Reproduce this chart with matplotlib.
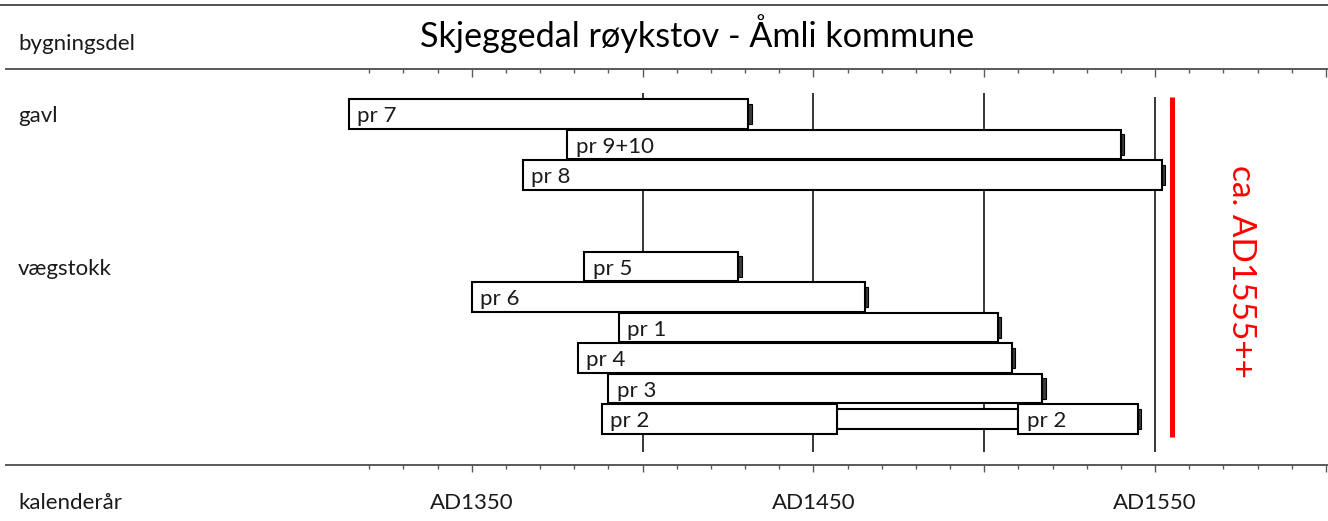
import matplotlib
matplotlib.use("Agg")
import matplotlib.pyplot as plt
from matplotlib.patches import Rectangle
from matplotlib.lines import Line2D
from matplotlib.transforms import blended_transform_factory
from matplotlib.ticker import FixedLocator, FuncFormatter

plt.rcParams['font.family'] = ['Lato', 'DejaVu Sans']

# ---------------- data ----------------
title = "Skjeggedal røykstov - Åmli kommune"
row_header = "bygningsdel"
axis_header = "kalenderår"
groups = ["gavl", "vægstokk"]
group_rows = [0, 5]

samples = ["pr 7", "pr 9+10", "pr 8", "pr 5", "pr 6", "pr 1", "pr 4", "pr 3", "pr 2"]
sample_rows = [0, 1, 2, 5, 6, 7, 8, 9, 10]
seg_starts = [[1314], [1378], [1365], [1383], [1350], [1393], [1381], [1390], [1388, 1510]]
seg_ends = [[1431], [1540], [1552], [1428], [1465], [1504], [1508], [1517], [1457, 1545]]

felling_year = 1555
felling_label = "ca. AD1555++"
grid_years = [1400, 1450, 1500, 1550]
major_years = [1350, 1400, 1450, 1500, 1550, 1600]
minor_years = list(range(1320, 1601, 10))
tick_labels = {1350: "AD1350", 1450: "AD1450", 1550: "AD1550"}

# ---------------- figure ----------------
W, H = 1328, 521
fig = plt.figure(figsize=(W / 100, H / 100), dpi=100)
ax = fig.add_axes([6 / W, (H - 464.5) / H, 1 - 6 / W, (464.5 - 69) / H])
ax.set_xlim(1213.7, 1600.6)
ax.set_ylim(11.49, -1.475)

line_col = "#595959"
text_col = "#1a1a1a"

for s in ["left", "right", "top"]:
    ax.spines[s].set_visible(False)
ax.spines["bottom"].set_color(line_col)
ax.spines["bottom"].set_linewidth(1.4)
ax.set_yticks([])

ax.xaxis.set_major_locator(FixedLocator(major_years))
ax.xaxis.set_minor_locator(FixedLocator(minor_years))
ax.xaxis.set_major_formatter(FuncFormatter(lambda v, p: tick_labels.get(int(round(v)), "")))
ax.tick_params(axis="x", which="major", direction="out", length=5.3, width=1.0,
               color=line_col, labelsize=16, labelcolor=text_col, pad=15)
ax.tick_params(axis="x", which="minor", direction="out", length=3.2, width=1.0, color=line_col)

sec = ax.secondary_xaxis("top")
sec.spines["top"].set_color(line_col)
sec.spines["top"].set_linewidth(1.4)
sec.xaxis.set_major_locator(FixedLocator(major_years))
sec.xaxis.set_minor_locator(FixedLocator(minor_years))
sec.tick_params(axis="x", which="major", direction="in", length=5.5, width=1.0,
                color=line_col, labeltop=False)
sec.tick_params(axis="x", which="minor", direction="in", length=3.2, width=1.0, color=line_col)

# gridlines
for gy in grid_years:
    top = -0.56 if gy == felling_year - 5 else -0.69
    ax.vlines(gy, top, 11.08, color="black", lw=1.1, zorder=1)

# bars
bar_h = 0.96
link_h = 0.63
for name, r, starts, ends in zip(samples, sample_rows, seg_starts, seg_ends):
    for i, (s, e) in enumerate(zip(starts, ends)):
        ax.add_patch(Rectangle((s, r - bar_h / 2), e - s, bar_h, facecolor="white",
                               edgecolor="black", lw=1.5, zorder=3))
        ax.annotate(name, xy=(s, r), xytext=(6, 0), textcoords="offset points",
                    ha="left", va="center_baseline", fontsize=16, color=text_col, zorder=5)
        if i + 1 < len(starts):
            ax.add_patch(Rectangle((e, r - link_h / 2), starts[i + 1] - e, link_h,
                                   facecolor="white", edgecolor="black", lw=1.5, zorder=2.5))
    e = ends[-1]
    ax.add_patch(Rectangle((e, r - 0.35 * bar_h), 1.0, 0.7 * bar_h, facecolor="#3c3c3c",
                           edgecolor="black", lw=0.8, zorder=2.8))

# felling estimate
ax.vlines(felling_year, -0.56, 10.59, color="#ff0000", lw=3.6, zorder=4)
ax.text(1575, 5.15, felling_label, rotation=270, ha="center", va="center",
        fontsize=24, color="#ff0000")

# group labels
tr = blended_transform_factory(fig.transFigure, ax.transData)
for g, r in zip(groups, group_rows):
    ax.text(18 / W, r, g, transform=tr, ha="left", va="center_baseline",
            fontsize=16, color=text_col)

# header texts
fig.text(697 / W, 1 - 46.7 / H, title, ha="center", va="baseline", fontsize=24.6, color="black")
fig.text(18 / W, 1 - 50 / H, row_header, ha="left", va="baseline", fontsize=16, color=text_col)
fig.text(18 / W, 1 - 509 / H, axis_header, ha="left", va="baseline", fontsize=16, color=text_col)
fig.add_artist(Line2D([0, 1], [1 - 5 / H, 1 - 5 / H], transform=fig.transFigure,
                      color="#333333", lw=1.2))

fig.savefig("out.png", dpi=100, facecolor="white")
